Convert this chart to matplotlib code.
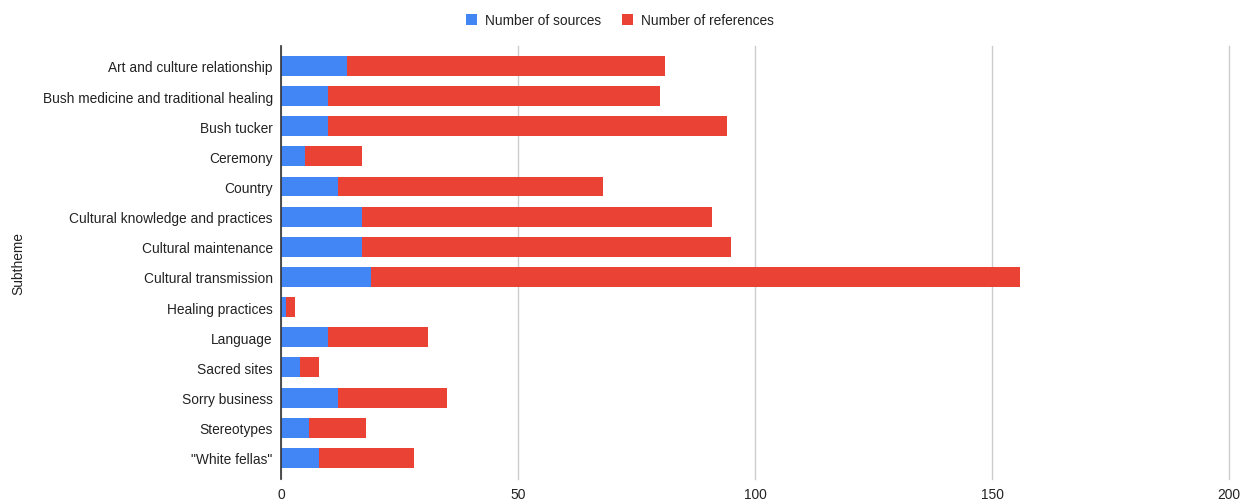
import matplotlib
matplotlib.use("Agg")
import matplotlib.pyplot as plt

subthemes = ["Art and culture relationship", "Bush medicine and traditional healing",
             "Bush tucker", "Ceremony", "Country", "Cultural knowledge and practices",
             "Cultural maintenance", "Cultural transmission", "Healing practices",
             "Language", "Sacred sites", "Sorry business", "Stereotypes", "\"White fellas\""]
sources = [14, 10, 10, 5, 12, 17, 17, 19, 1, 10, 4, 12, 6, 8]
references = [67, 70, 84, 12, 56, 74, 78, 137, 2, 21, 4, 23, 12, 20]
x_ticks = [0, 50, 100, 150, 200]

plt.rcParams['font.family'] = ['Liberation Sans', 'DejaVu Sans']

fig = plt.figure(figsize=(12.4, 5.02), dpi=100)
ax = fig.add_axes([0.2266, 0.0438, 0.9911 - 0.2266, 0.9064 - 0.0438])

y = list(range(len(subthemes)))
ax.barh(y, sources, height=0.66, color="#4285F4", label="Number of sources", zorder=3)
ax.barh(y, references, left=sources, height=0.66, color="#EA4335", label="Number of references", zorder=3)

ax.set_ylim(13.70, -0.66)
ax.set_xlim(0, 200)
ax.set_xticks(x_ticks)
ax.set_yticks(y)
ax.set_yticklabels(subthemes)
ax.tick_params(axis='both', length=0, labelsize=9.9, colors="#222222")
ax.tick_params(axis='y', pad=6)
ax.tick_params(axis='x', pad=6)
ax.grid(axis='x', color="#cccccc", linewidth=1, zorder=0)
for gl in ax.get_xgridlines():
    gl.set_clip_on(False)
for s in ["top", "right", "bottom"]:
    ax.spines[s].set_visible(False)
ax.spines["left"].set_color("#333333")
ax.spines["left"].set_linewidth(1.2)
ax.spines["left"].set_zorder(4)
ax.set_ylabel("Subtheme", fontsize=9.9, color="#222222", labelpad=0)
ax.yaxis.set_label_coords(-0.270, 0.5)

fig.legend(loc="center", bbox_to_anchor=(0.500, 0.958), ncol=2, frameon=False,
           fontsize=9.9, handlelength=0.8, handleheight=0.9, handletextpad=0.6,
           columnspacing=1.5, labelcolor="#222222")

fig.savefig("out.png", dpi=100, facecolor="white")
